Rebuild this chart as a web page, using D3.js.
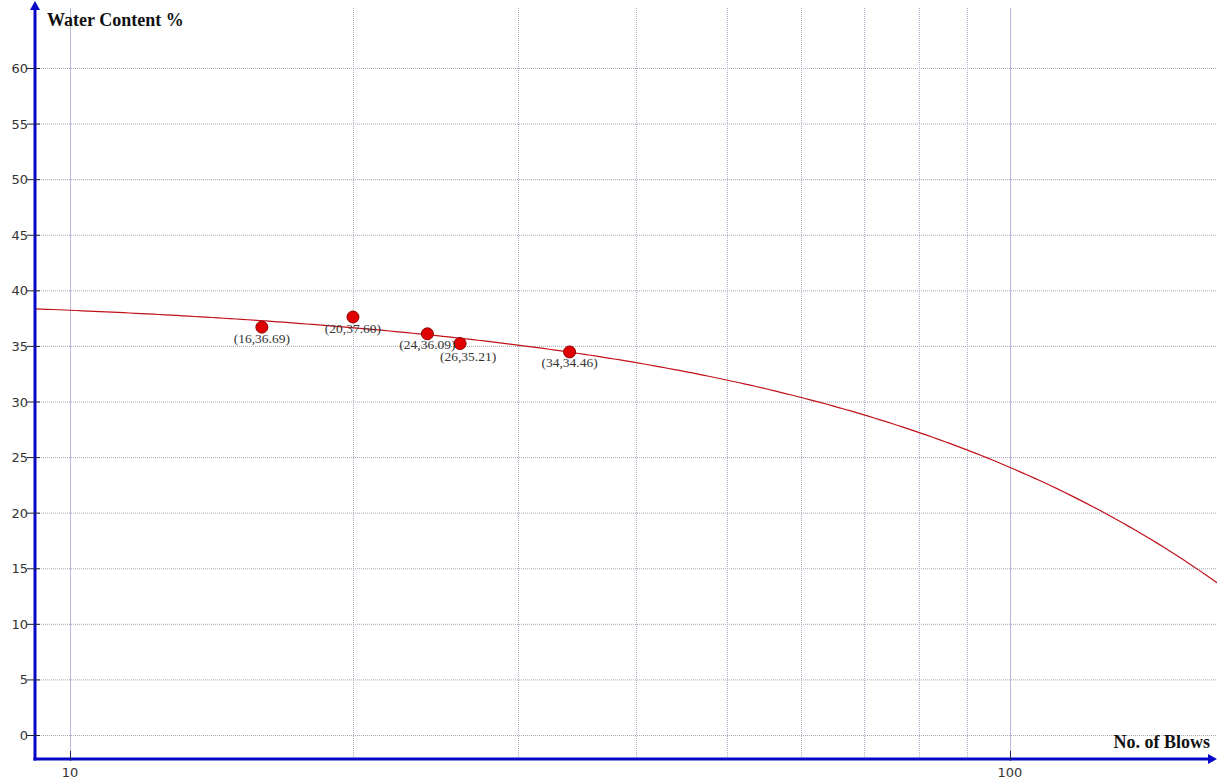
<!DOCTYPE html>
<html>
<head>
<meta charset="utf-8">
<script src="https://cdn.jsdelivr.net/npm/d3@7"></script>
<style>
  html, body { margin: 0; padding: 0; background: #fff; }
  svg { display: block; }
</style>
</head>
<body>
<svg id="chart" width="1217" height="780"></svg>
<script>
// Liquid limit test: number of blows vs. water content
const blows = [16, 20, 24, 26, 34];
const waterContent = [36.69, 37.60, 36.09, 35.21, 34.46];
const yTicks = [0, 5, 10, 15, 20, 25, 30, 35, 40, 45, 50, 55, 60];
const xMajorTicks = [10, 100];
const xMinorGrid = [20, 30, 40, 50, 60, 70, 80, 90];

const W = 1217, H = 780;
const axisX = 35, axisY = 759;

const svg = d3.select("#chart");

// log scale: one decade = 940px, 10 at x=70
const x = d3.scaleLog().domain([10, 100]).range([70, 1010]);
const y = d3.scaleLinear().domain([0, 60]).range([735, 68]);

const xMin = x.invert(axisX), xMax = x.invert(W);

// grid
const grid = svg.append("g");
grid.selectAll("line.hg").data(yTicks).join("line")
  .attr("x1", axisX).attr("x2", W)
  .attr("y1", d => y(d) + 0.5).attr("y2", d => y(d) + 0.5)
  .attr("stroke", "#a8a8b4").attr("stroke-width", 1)
  .attr("stroke-dasharray", "1,1");
grid.selectAll("line.vg").data(xMinorGrid).join("line")
  .attr("x1", d => Math.round(x(d)) + 0.5).attr("x2", d => Math.round(x(d)) + 0.5)
  .attr("y1", 8).attr("y2", axisY)
  .attr("stroke", "#b0b0c8").attr("stroke-width", 1)
  .attr("stroke-dasharray", "1,1");
grid.selectAll("line.vm").data(xMajorTicks).join("line")
  .attr("x1", d => Math.round(x(d)) + 0.5).attr("x2", d => Math.round(x(d)) + 0.5)
  .attr("y1", 8).attr("y2", axisY)
  .attr("stroke", "#b8b8e0").attr("stroke-width", 1);

// least-squares trend line w = a + b*N
const mx = d3.mean(blows), my = d3.mean(waterContent);
let sxy = 0, sxx = 0;
blows.forEach((b, i) => { sxy += (b - mx) * (waterContent[i] - my); sxx += (b - mx) * (b - mx); });
const slope = sxy / sxx, intercept = my - slope * mx;
const trendN = d3.range(0, 201).map(i => xMin * Math.pow(xMax / xMin, i / 200));
svg.append("path")
  .datum(trendN)
  .attr("fill", "none")
  .attr("stroke", "#c01018")
  .attr("stroke-width", 1.2)
  .attr("d", d3.line().x(d => x(d)).y(d => y(intercept + slope * d)));

// axes
const axisColor = "#0808c8";
svg.append("line").attr("x1", axisX).attr("x2", axisX).attr("y1", 6).attr("y2", axisY + 1.5)
  .attr("stroke", axisColor).attr("stroke-width", 3);
svg.append("line").attr("x1", axisX - 1.5).attr("x2", W - 6).attr("y1", axisY).attr("y2", axisY)
  .attr("stroke", axisColor).attr("stroke-width", 3);
svg.append("path").attr("d", `M${axisX},1 L${axisX - 5},10 L${axisX + 5},10 Z`).attr("fill", axisColor);
svg.append("path").attr("d", `M${W},${axisY} L${W - 9},${axisY - 5} L${W - 9},${axisY + 5} Z`).attr("fill", axisColor);

// y ticks
const yt = svg.append("g");
yt.selectAll("line").data(yTicks).join("line")
  .attr("x1", axisX - 8).attr("x2", axisX + 5)
  .attr("y1", d => y(d) + 0.5).attr("y2", d => y(d) + 0.5)
  .attr("stroke", "#202040").attr("stroke-width", 1);
yt.selectAll("text").data(yTicks).join("text")
  .attr("x", axisX - 7).attr("y", d => y(d) + 5)
  .attr("text-anchor", "end")
  .attr("font-family", "DejaVu Sans, sans-serif").attr("font-size", 13)
  .attr("fill", "#333").text(d => d);

// x ticks
const xt = svg.append("g");
xt.selectAll("line").data(xMajorTicks).join("line")
  .attr("x1", d => Math.round(x(d)) + 0.5).attr("x2", d => Math.round(x(d)) + 0.5)
  .attr("y1", axisY - 8).attr("y2", axisY + 2)
  .attr("stroke", "#202060").attr("stroke-width", 1);
xt.selectAll("text").data(xMajorTicks).join("text")
  .attr("x", d => x(d)).attr("y", axisY + 18)
  .attr("text-anchor", "middle")
  .attr("font-family", "DejaVu Sans, sans-serif").attr("font-size", 13)
  .attr("fill", "#333").text(d => d);

// axis titles
svg.append("text").attr("x", 47).attr("y", 26)
  .attr("font-family", "Liberation Serif, serif").attr("font-weight", "bold").attr("font-size", 18)
  .attr("fill", "#111").text("Water Content %");
svg.append("text").attr("x", 1210).attr("y", 748).attr("text-anchor", "end")
  .attr("font-family", "Liberation Serif, serif").attr("font-weight", "bold").attr("font-size", 18)
  .attr("fill", "#111").text("No. of Blows");

// data points
const pts = blows.map((b, i) => ({ n: b, w: waterContent[i] }));
svg.append("g").selectAll("circle").data(pts).join("circle")
  .attr("cx", d => x(d.n)).attr("cy", d => y(d.w)).attr("r", 6)
  .attr("fill", "#e00000").attr("stroke", "#900000").attr("stroke-width", 1);

// point labels, nudged right/down when they would overlap the previous label
const labelFmt = d => `(${d.n},${d.w.toFixed(2)})`;
let prevRight = -Infinity;
const labels = svg.append("g");
pts.forEach(d => {
  const cx = x(d.n);
  const t = labels.append("text")
    .attr("font-family", "Liberation Serif, serif").attr("font-size", 13.5)
    .attr("fill", "#333").text(labelFmt(d));
  const w = t.node().getComputedTextLength();
  let lx = cx - w / 2, dy = 0;
  if (lx < prevRight) { lx += 8; dy = 1.5; }
  t.attr("x", lx).attr("y", y(d.w) + 15.5 + dy);
  prevRight = lx + w;
});
</script>
</body>
</html>
